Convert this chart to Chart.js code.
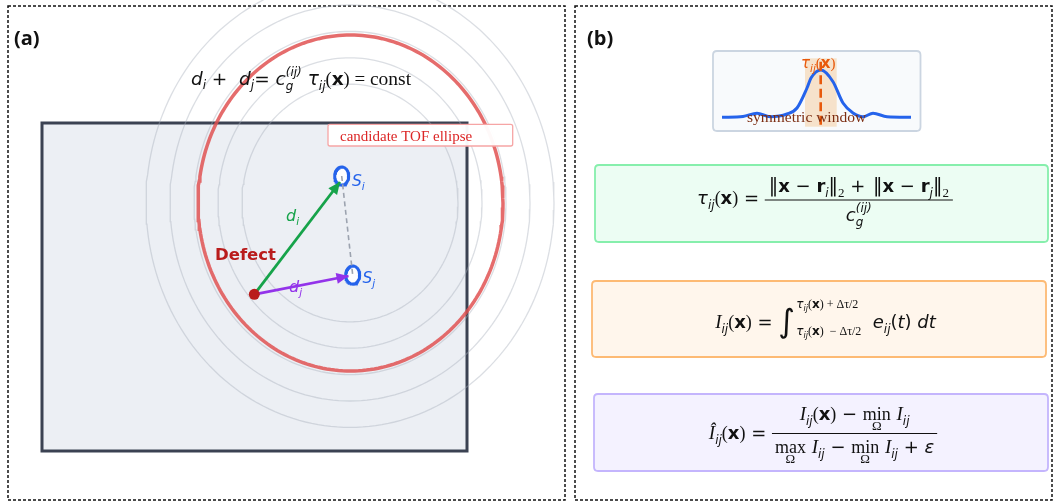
<!DOCTYPE html>
<html>
<head>
<meta charset="utf-8">
<script src="https://cdn.jsdelivr.net/npm/chart.js@4.4.1/dist/chart.umd.min.js"></script>
<style>
  html, body { margin: 0; padding: 0; background: #ffffff; }
  #wrap { width: 1056px; height: 504px; }
</style>
</head>
<body>
<div id="wrap"><canvas id="c" width="1056" height="504"></canvas></div>
<script>
// ---- diagram data (page coordinates, y grows downward) ----
const canvasW = 1056, canvasH = 504;

// panel frames: [x0, y0, x1, y1]
const panelA = [8, 6, 565, 500];
const panelB = [575, 6, 1052, 500];

// plate (specimen) rectangle
const plate = [42, 123, 467, 451];

// concentric wavefront rings around the sensor pair
const ringCenter = [350, 203];
const ringRadiiX = [108, 132, 156, 180, 204];
const ringAspect = 1.1;

// candidate time-of-flight ellipse
const tofCenter = [350.5, 203];
const tofRadii = [152.5, 168];

// sensors and defect
const sensorI = [341.7, 176];
const sensorJ = [352.7, 275];
const sensorRadii = [7, 9];
const defect = [254.3, 294.3];
const arrowI = [[254.3, 294.3], [340, 182]];
const arrowJ = [[254.3, 294.3], [348.5, 276]];

// inset: envelope around the time of flight
const waveX = [722, 743, 757, 770, 787, 797, 807, 811, 821, 833, 843, 853, 863, 873, 887, 911];
const waveY = [117.3, 116.5, 113.3, 116.7, 114, 108, 88, 78, 70, 81.7, 103, 113, 116.7, 113.3, 116.7, 117.3];
const tauMark = [820.7, 61.7, 126.7];          // x, top, bottom
const windowSpan = [805, 58.3, 836.7, 126.7];  // x0, y0, x1, y1
const insetBox = [713, 51, 920.5, 131];

// formula boxes in panel (b)
const boxTau = [595, 165, 1048, 242];
const boxInt = [592, 281, 1046, 357];
const boxNorm = [594, 394, 1048, 471];
const labelBox = [328, 124.3, 512.7, 146];

// ---- helpers ----
function ellipsePoints(cx, cy, rx, ry, n) {
  const pts = [];
  for (let k = 0; k <= n; k++) {
    const a = (k / n) * Math.PI * 2;
    pts.push({ x: cx + rx * Math.cos(a), y: cy + ry * Math.sin(a) });
  }
  return pts;
}
const xy = (p) => ({ x: p[0], y: p[1] });

const datasets = [];
ringRadiiX.forEach((r) => {
  datasets.push({
    data: ellipsePoints(ringCenter[0], ringCenter[1], r, r * ringAspect, 200),
    showLine: true, pointRadius: 0, borderColor: 'rgba(165,172,184,0.40)', borderWidth: 1.3,
    fill: false, order: 20
  });
});
datasets.push({
  data: ellipsePoints(tofCenter[0], tofCenter[1], tofRadii[0], tofRadii[1], 240),
  showLine: true, pointRadius: 0, borderColor: 'rgba(224,80,80,0.84)', borderWidth: 3.5,
  fill: false, order: 19
});
datasets.push({
  data: waveX.map((x, i) => ({ x, y: waveY[i] })),
  showLine: true, pointRadius: 0, borderColor: '#2563eb', borderWidth: 3,
  cubicInterpolationMode: 'monotone', fill: false, order: 18
});
datasets.push({
  data: [{ x: tauMark[0], y: tauMark[1] }, { x: tauMark[0], y: tauMark[2] }],
  showLine: true, pointRadius: 0, borderColor: '#e8590c', borderWidth: 2.6,
  borderDash: [9, 4.5], fill: false, order: 17
});
[sensorI, sensorJ].forEach((s) => {
  datasets.push({
    data: ellipsePoints(s[0], s[1], sensorRadii[0], sensorRadii[1], 60),
    showLine: true, pointRadius: 0, borderColor: '#2563eb', borderWidth: 3,
    backgroundColor: 'rgba(255,255,255,0.92)', fill: 'shape', order: 16
  });
});
datasets.push({
  data: [xy(sensorI), xy(sensorJ)],
  showLine: true, pointRadius: 0, borderColor: '#9ca3af', borderWidth: 1.6,
  borderDash: [5, 3.5], fill: false, order: 15
});
datasets.push({
  data: arrowI.map(xy), showLine: true, pointRadius: 0, borderColor: '#16a34a', borderWidth: 2.8,
  fill: false, order: 14
});
datasets.push({
  data: arrowJ.map(xy), showLine: true, pointRadius: 0, borderColor: '#9333ea', borderWidth: 2.8,
  fill: false, order: 14
});
datasets.push({
  data: [xy(defect)], showLine: false, pointRadius: 5.5, pointBackgroundColor: '#b91c1c',
  pointBorderColor: '#b91c1c', borderWidth: 0, order: 13
});

// ---- rich text for the formulas ----
const FAM = { S: '"DejaVu Sans"', R: '"Liberation Serif"', O: '"Open Sans"' };
function fontOf(r) {
  const fam = FAM[r.f[0]];
  const it = r.f.includes('I') ? 'italic ' : '';
  const b = r.f.includes('B') ? 'bold ' : '';
  return it + b + r.s + 'px ' + fam;
}
function T(t, f, s, dy, c) { return { k: 't', t, f, s, dy: dy || 0, c }; }
function measure(ctx, items) { let w = 0; items.forEach((it) => { w += widthOf(ctx, it); }); return w; }
function widthOf(ctx, it) {
  if (it.k === 't') { ctx.font = fontOf(it); return ctx.measureText(it.t).width; }
  if (it.k === 'stack') return Math.max(measure(ctx, it.up), measure(ctx, it.dn));
  if (it.k === 'under') return Math.max(measure(ctx, it.top), measure(ctx, it.bot));
  if (it.k === 'frac') return Math.max(measure(ctx, it.num), measure(ctx, it.den)) + 2 * (it.pad || 3);
  return 0;
}
function drawItems(ctx, items, x, y, color) {
  items.forEach((it) => { x += drawItem(ctx, it, x, y, color); });
  return x;
}
function drawItem(ctx, it, x, y, color) {
  const w = widthOf(ctx, it);
  if (it.k === 't') {
    ctx.font = fontOf(it); ctx.fillStyle = it.c || color; ctx.fillText(it.t, x, y + it.dy);
  } else if (it.k === 'stack') {
    drawItems(ctx, it.up, x, y + it.upDy, color);
    drawItems(ctx, it.dn, x, y + it.dnDy, color);
  } else if (it.k === 'under') {
    const wt = measure(ctx, it.top), wb = measure(ctx, it.bot);
    drawItems(ctx, it.top, x + (w - wt) / 2, y, color);
    drawItems(ctx, it.bot, x + (w - wb) / 2, y + it.botDy, color);
  } else if (it.k === 'frac') {
    const wn = measure(ctx, it.num), wd = measure(ctx, it.den);
    drawItems(ctx, it.num, x + (w - wn) / 2, y + it.numDy, color);
    drawItems(ctx, it.den, x + (w - wd) / 2, y + it.denDy, color);
    ctx.save(); ctx.strokeStyle = color; ctx.lineWidth = 1.1;
    ctx.beginPath(); ctx.moveTo(x, y + it.lineDy); ctx.lineTo(x + w, y + it.lineDy); ctx.stroke(); ctx.restore();
  }
  return w;
}
const sub = (t, s, dy) => T(t, 'SI', s, dy);
function cg(s, ss) {
  return [T('c', 'SI', s), { k: 'stack', up: [T('(ij)', 'SI', ss)], upDy: -0.5 * s, dn: [T('g', 'SI', ss)], dnDy: 0.27 * s }];
}
function tauX(s, ss, col) {
  return [T('τ', 'SI', s, 0, col), T('ij', 'SI', ss, 0.27 * s, col), T('(', 'R', s, 0, col), T('x', 'SB', s, 0, col), T(')', 'R', s, 0, col)];
}
function Iij(s, ss, hat) {
  return [T(hat ? 'Î' : 'I', 'RI', s + 1), sub('ij', ss, 0.27 * s)];
}
const minO = (s) => ({ k: 'under', top: [T('min', 'R', s)], bot: [T('Ω', 'R', 13)], botDy: 9.5 });
const maxO = (s) => ({ k: 'under', top: [T('max', 'R', s)], bot: [T('Ω', 'R', 13)], botDy: 10 });

const formulaTop = [
  T('d', 'SI', 18.5), sub('i', 12, 4), T(' + ', 'S', 18.5), T(' d', 'SI', 18.5), sub('j', 12, 4), T('= ', 'S', 18.5),
  ...cg(18.5, 12), T(' ', 'S', 18.5), ...tauX(18.5, 12), T(' = ', 'R', 19), T('const', 'R', 19.5)
];
const normPart = (sym) => [T('‖', 'S', 19), T('x', 'SB', 18), T(' − ', 'S', 18), T('r', 'SB', 18), sub(sym, 12, 5), T('‖', 'S', 19), T('2', 'R', 13, 5)];
const formulaTau = [
  ...tauX(18, 12), T(' = ', 'S', 18),
  { k: 'frac', num: [...normPart('i'), T(' + ', 'S', 18), T(' ', 'S', 6), ...normPart('j')], den: cg(18, 12), numDy: -12, denDy: 17, lineDy: -4, pad: 4 }
];
const limit = (sign) => [T('τ', 'SI', 12), T('ij', 'SI', 8, 3), T('(', 'R', 12), T('x', 'SB', 12), T(')', 'R', 12), T(sign + 'Δτ/2', 'R', 12)];
const formulaInt = [
  ...Iij(18, 12, false), T('(', 'R', 18), T('x', 'SB', 18), T(')', 'R', 18), T(' = ', 'S', 18),
  T('∫', 'S', 32, 4), T(' ', 'S', 4),
  { k: 'stack', up: limit(' + '), upDy: -20, dn: [T('τ', 'SI', 12), T('ij', 'SI', 8, 3), T('(', 'R', 12), T('x', 'SB', 12), T(')', 'R', 12), T('  − Δτ/2', 'R', 12)], dnDy: 7 },
  T('  e', 'SI', 18), sub('ij', 12, 5), T('(', 'S', 18), T('t', 'SI', 18), T(')', 'S', 18), T(' dt', 'SI', 18)
];
const formulaNorm = [
  ...Iij(18, 12, true), T('(', 'R', 18), T('x', 'SB', 18), T(')', 'R', 18), T(' = ', 'S', 18),
  { k: 'frac',
    num: [...Iij(18, 12, false), T('(', 'R', 18), T('x', 'SB', 18), T(')', 'R', 18), T(' − ', 'S', 18), minO(18), T(' ', 'S', 18), ...Iij(18, 12, false)],
    den: [maxO(18), T(' ', 'S', 18), ...Iij(18, 12, false), T(' − ', 'S', 18), minO(18), T(' ', 'S', 18), ...Iij(18, 12, false), T(' + ', 'S', 18), T('ε', 'SI', 18)],
    numDy: -19, denDy: 14, lineDy: -5.5, pad: 3 }
];

// text placements: [items, centre x, baseline y, colour]
const formulaPlacements = [
  [formulaTop, 301, 85, '#111111'],
  [formulaTau, 825, 204, '#111111'],
  [formulaInt, 825.5, 328, '#111111'],
  [formulaNorm, 823, 439, '#111111']
];
const plainLabels = [
  // [items, left x, baseline y]
  [[T('(a)', 'OB', 20, 0, '#111')], 14, 45],
  [[T('(b)', 'OB', 20, 0, '#111')], 587, 45],
  [[T('Defect', 'SB', 16.5, 0, '#b91c1c')], 215, 260],
  [[T('d', 'SI', 16, 0, '#16a34a'), T('i', 'SI', 10.5, 4, '#16a34a')], 286, 221],
  [[T('d', 'SI', 16, 0, '#9333ea'), T('j', 'SI', 10.5, 4, '#9333ea')], 289, 292],
  [[T('S', 'SI', 15.5, 0, '#2563eb'), T('i', 'SI', 10.5, 4, '#2563eb')], 352, 186],
  [[T('S', 'SI', 15.5, 0, '#2563eb'), T('j', 'SI', 10.5, 4, '#2563eb')], 362.5, 283],
  [[T('candidate TOF ellipse', 'R', 15, 0, '#dc2626')], 340, 141],
  [tauX(15, 10.5, '#e8590c'), 801, 68]
];
const centredLabels = [
  [[T('symmetric window', 'R', 15.5, 0, '#7c2d12')], 806.5, 121.7]
];

function roundRect(ctx, x0, y0, x1, y1, r) {
  ctx.beginPath();
  ctx.moveTo(x0 + r, y0); ctx.lineTo(x1 - r, y0); ctx.quadraticCurveTo(x1, y0, x1, y0 + r);
  ctx.lineTo(x1, y1 - r); ctx.quadraticCurveTo(x1, y1, x1 - r, y1);
  ctx.lineTo(x0 + r, y1); ctx.quadraticCurveTo(x0, y1, x0, y1 - r);
  ctx.lineTo(x0, y0 + r); ctx.quadraticCurveTo(x0, y0, x0 + r, y0); ctx.closePath();
}

const diagramPlugin = {
  id: 'diagram',
  beforeDatasetsDraw(chart) {
    const { ctx } = chart; const sx = chart.scales.x, sy = chart.scales.y;
    const P = (b) => [sx.getPixelForValue(b[0]), sy.getPixelForValue(b[1]), sx.getPixelForValue(b[2]), sy.getPixelForValue(b[3])];
    ctx.save();
    ctx.fillStyle = '#ffffff'; ctx.fillRect(0, 0, chart.width, chart.height);
    // dashed panel frames
    ctx.setLineDash([3, 2]); ctx.lineWidth = 1.5; ctx.strokeStyle = '#111111';
    [panelA, panelB].forEach((b) => { const q = P(b); ctx.strokeRect(q[0], q[1], q[2] - q[0], q[3] - q[1]); });
    ctx.setLineDash([]);
    // plate
    let q = P(plate);
    ctx.fillStyle = '#eceff4'; ctx.fillRect(q[0], q[1], q[2] - q[0], q[3] - q[1]);
    ctx.lineWidth = 3; ctx.strokeStyle = '#3b4252'; ctx.strokeRect(q[0], q[1], q[2] - q[0], q[3] - q[1]);
    // formula boxes
    [[boxTau, '#ecfdf3', '#86efac'], [boxInt, '#fff6ec', '#fdba74'], [boxNorm, '#f4f2ff', '#c4b5fd'], [insetBox, '#f8fafc', '#cbd5e1']].forEach(([b, f, s]) => {
      const r = P(b); roundRect(ctx, r[0], r[1], r[2], r[3], 4);
      ctx.fillStyle = f; ctx.fill(); ctx.lineWidth = 1.8; ctx.strokeStyle = s; ctx.stroke();
    });
    // analysis window
    q = P(windowSpan);
    ctx.fillStyle = 'rgba(244,178,98,0.32)'; ctx.fillRect(q[0], q[1], q[2] - q[0], q[3] - q[1]);
    ctx.restore();
  },
  afterDatasetsDraw(chart) {
    const { ctx } = chart; const sx = chart.scales.x, sy = chart.scales.y;
    const px = (v) => sx.getPixelForValue(v), py = (v) => sy.getPixelForValue(v);
    ctx.save();
    // arrow heads
    [[arrowI, '#16a34a'], [arrowJ, '#9333ea']].forEach(([a, col]) => {
      const x0 = px(a[0][0]), y0 = py(a[0][1]), x1 = px(a[1][0]), y1 = py(a[1][1]);
      const ang = Math.atan2(y1 - y0, x1 - x0), L = 12, H = 5.5;
      ctx.beginPath();
      ctx.moveTo(x1, y1);
      ctx.lineTo(x1 - L * Math.cos(ang) + H * Math.sin(ang), y1 - L * Math.sin(ang) - H * Math.cos(ang));
      ctx.lineTo(x1 - L * Math.cos(ang) - H * Math.sin(ang), y1 - L * Math.sin(ang) + H * Math.cos(ang));
      ctx.closePath(); ctx.fillStyle = col; ctx.fill();
    });
    // label box for the ellipse
    const lb = [px(labelBox[0]), py(labelBox[1]), px(labelBox[2]), py(labelBox[3])];
    roundRect(ctx, lb[0], lb[1], lb[2], lb[3], 2);
    ctx.fillStyle = 'rgba(255,255,255,0.96)'; ctx.fill();
    ctx.lineWidth = 1.3; ctx.strokeStyle = '#f6a5a5'; ctx.stroke();
    ctx.textBaseline = 'alphabetic'; ctx.textAlign = 'left';
    formulaPlacements.forEach(([items, cx, by, col]) => {
      const w = measure(ctx, items);
      drawItems(ctx, items, px(cx) - w / 2, py(by), col);
    });
    plainLabels.forEach(([items, lx, by]) => { drawItems(ctx, items, px(lx), py(by), '#111'); });
    centredLabels.forEach(([items, cx, by]) => {
      const w = measure(ctx, items); drawItems(ctx, items, px(cx) - w / 2, py(by), '#111');
    });
    ctx.restore();
  }
};

new Chart(document.getElementById('c'), {
  type: 'scatter',
  data: { datasets },
  options: {
    responsive: false, animation: false, events: [],
    layout: { padding: 0, autoPadding: false },
    plugins: { legend: { display: false }, tooltip: { enabled: false }, title: { display: false } },
    scales: {
      x: { type: 'linear', min: 0, max: canvasW, display: false },
      y: { type: 'linear', min: 0, max: canvasH, reverse: true, display: false }
    }
  },
  plugins: [diagramPlugin]
});
</script>
</body>
</html>
